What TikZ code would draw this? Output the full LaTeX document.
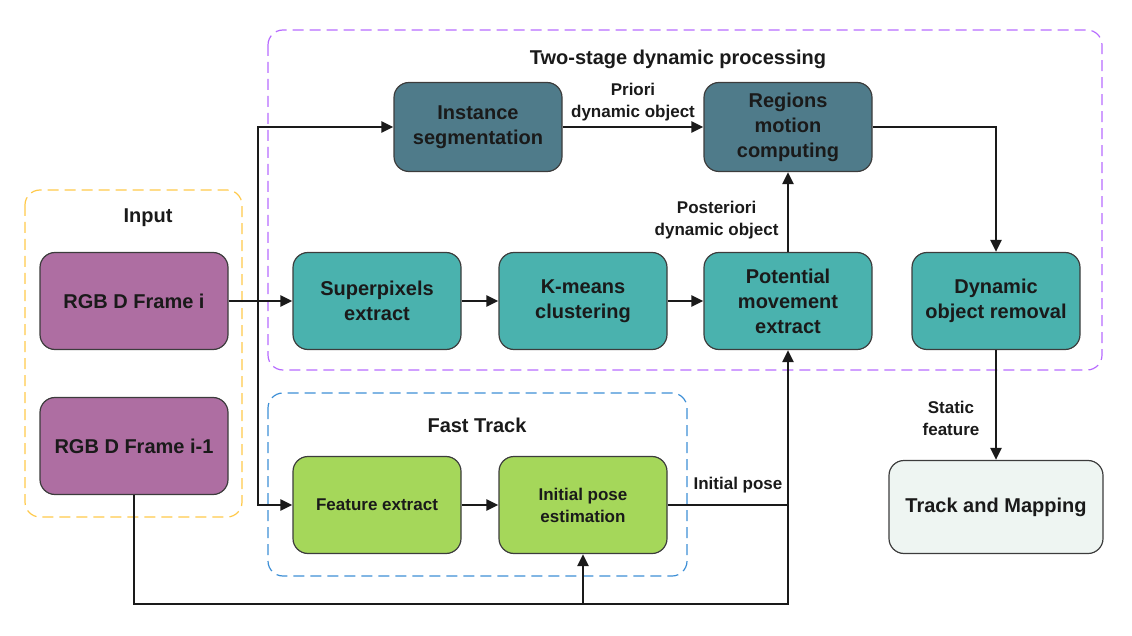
\documentclass[tikz,border=0pt]{standalone}
\usepackage{fontspec}
\setmainfont{Liberation Sans}
\usetikzlibrary{arrows.meta,positioning}
\definecolor{segblue}{HTML}{4F7B8A}
\definecolor{procteal}{HTML}{4AB2AE}
\definecolor{framepurple}{HTML}{AE6EA2}
\definecolor{trackgreen}{HTML}{A5D75A}
\definecolor{mapwhite}{HTML}{EEF5F2}
\definecolor{edgegray}{HTML}{3C3C3C}
\definecolor{inkgray}{HTML}{1A1A1A}
\definecolor{dashpurple}{HTML}{B76BFF}
\definecolor{dashyellow}{HTML}{FFC94A}
\definecolor{dashblue}{HTML}{3D8FD6}
\begin{document}
\begin{tikzpicture}[x=1pt,y=-1pt,
    box/.style={draw=edgegray, line width=1.2pt, rounded corners=15pt,
      minimum width=168pt, minimum height=97pt, align=center, text=inkgray,
      font=\fontsize{20}{25}\selectfont\bfseries},
    smallbox/.style={box, font=\fontsize{17}{22}\selectfont\bfseries},
    groupbox/.style={line width=1.2pt, rounded corners=15pt, dash pattern=on 11pt off 6pt},
    grouptitle/.style={text=inkgray, font=\fontsize{20}{25}\selectfont\bfseries},
    lbl/.style={text=inkgray, align=center, font=\fontsize{17}{22}\selectfont\bfseries},
    flow/.style={draw=inkgray, line width=2.3pt, -{Triangle[length=12pt,width=11pt]}},
    plain/.style={draw=inkgray, line width=2.3pt}]
  \useasboundingbox (0,0) rectangle (1132,636);
  % dashed groups
  \draw[groupbox, dashpurple] (268,30) rectangle (1102,370);
  \draw[groupbox, dashyellow] (25,190) rectangle (242,517);
  \draw[groupbox, dashblue] (268,393) rectangle (687,576);
  \node[grouptitle] (dyntitle) at (678,59) {Two-stage dynamic processing};
  \node[grouptitle] (inputtitle) at (148,218) {Input};
  \node[grouptitle] (fasttitle) at (477,425) {Fast Track};
  % boxes
  \node[box, fill=framepurple, minimum width=188pt] (framei) at (134,301) {RGB D Frame i};
  \node[box, fill=framepurple, minimum width=188pt] (frameprev) at (134,446) {RGB D Frame i-1};
  \node[box, fill=segblue, minimum height=89pt] (instseg) at (478,127) {Instance\\segmentation};
  \node[box, fill=segblue, minimum height=89pt] (regions) at (788,127) {Regions\\motion\\computing};
  \node[box, fill=procteal] (superpix) at (377,301) {Superpixels\\extract};
  \node[box, fill=procteal] (kmeans) at (583,301) {K-means\\clustering};
  \node[box, fill=procteal] (potential) at (788,301) {Potential\\movement\\extract};
  \node[box, fill=procteal] (removal) at (996,301) {Dynamic\\object removal};
  \node[smallbox, fill=trackgreen] (featext) at (377,505) {Feature extract};
  \node[smallbox, fill=trackgreen] (initpose) at (583,505) {Initial pose\\estimation};
  \node[box, fill=mapwhite, minimum width=214pt, minimum height=93pt] (mapping) at (996,507) {Track and Mapping};
  % connectors
  \coordinate (split) at (258,301);
  \coordinate (posejoin) at (788,505);
  \coordinate (loopcorner) at (788,604);
  \draw[flow] (framei) -- (superpix);
  \draw[flow] (split) |- (instseg);
  \draw[flow] (split) |- (featext);
  \draw[flow] (instseg) -- node[lbl, above=1pt] (priori) {Priori\\dynamic object} (regions);
  \draw[flow] (superpix) -- (kmeans);
  \draw[flow] (kmeans) -- (potential);
  \draw[flow] (potential) -- (regions);
  \node[lbl, anchor=east] (posteriori) at (782,220) {Posteriori\\dynamic object};
  \draw[flow] (regions) -| (removal);
  \draw[flow] (removal) -- (mapping);
  \node[lbl] (static) at (951,418) {Static\\feature};
  \draw[flow] (featext) -- (initpose);
  \draw[plain] (initpose) -- (posejoin);
  \draw[flow] (posejoin) -- (potential);
  \node[lbl] (poselbl) at (738,485) {Initial pose};
  \draw[plain] (frameprev) |- (loopcorner) -- (posejoin);
  \draw[flow] (initpose |- loopcorner) -- (initpose);
\end{tikzpicture}
\end{document}
